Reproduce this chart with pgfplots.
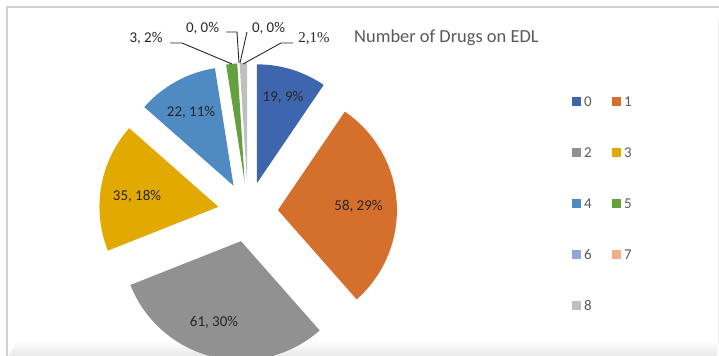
\documentclass[border=0pt]{standalone}
\usepackage{pgfplots}
\usepackage{pgfplotstable}
\pgfplotsset{compat=1.18}
\usepackage{fontspec}
\setmainfont{Carlito}
\newfontfamily\serifnum{Liberation Serif}
\definecolor{c0}{HTML}{3E66AE}
\definecolor{c1}{HTML}{D4702C}
\definecolor{c2}{HTML}{919191}
\definecolor{c3}{HTML}{E2AA00}
\definecolor{c4}{HTML}{4F8BC2}
\definecolor{c5}{HTML}{65A03F}
\definecolor{c6}{HTML}{8FA7D6}
\definecolor{c7}{HTML}{F4AD8D}
\definecolor{c8}{HTML}{BFBFBF}
\definecolor{txt}{HTML}{262626}
\definecolor{ttl}{HTML}{595959}
\definecolor{frm}{HTML}{D0D0D0}

% category, value, colour
\pgfplotstableread{
cat val col
0 19 c0
1 58 c1
2 61 c2
3 35 c3
4 22 c4
5 3 c5
6 0 c6
7 0 c7
8 2 c8
}\piedata

\begin{document}
\begin{tikzpicture}
\begin{axis}[width=719bp, height=356bp, scale only axis,
  xmin=0, xmax=719, ymin=0, ymax=356, enlargelimits=false,
  hide axis, clip=false, at={(0,0)}, anchor=origin]
\pgfplotsextra{%
  \coordinate (BL) at (axis cs:0,0);
  \coordinate (TR) at (axis cs:719,356);
  % bottom shadow of the frame
  \shade[top color=white, bottom color=black!9]
    (axis cs:8,0) -- (axis cs:18,15) -- (axis cs:717,15) -- (axis cs:717,0) -- cycle;
  % frame
  \draw[frm, line width=1.2bp] (axis cs:7,0) -- (axis cs:7,349) -- (axis cs:719,349);
  \draw[black!7, line width=1bp] (axis cs:718,336) -- (axis cs:718,12);
  % pie
  \def\pcx{248}\def\pcy{144}\def\pexp{30}\def\prad{119}
  \def\ptot{0}
  \pgfplotsforeachungrouped \i in {0,...,8}{%
    \pgfplotstablegetelem{\i}{val}\of\piedata
    \pgfmathsetmacro\ptot{\ptot+\pgfplotsretval}}
  \def\pcum{0}
  \pgfplotsforeachungrouped \i in {0,...,8}{%
    \pgfplotstablegetelem{\i}{val}\of\piedata \let\sval\pgfplotsretval
    \pgfplotstablegetelem{\i}{col}\of\piedata \let\scol\pgfplotsretval
    \pgfmathsetmacro\aone{90-\pcum/\ptot*360}
    \pgfmathsetmacro\pcum{\pcum+\sval}
    \pgfmathsetmacro\atwo{90-\pcum/\ptot*360}
    \pgfmathsetmacro\amid{(\aone+\atwo)/2}
    \pgfmathsetmacro\apx{\pcx+\pexp*cos(\amid)}
    \pgfmathsetmacro\apy{\pcy+\pexp*sin(\amid)}
    \ifdim\sval pt>0pt
      \fill[\scol] (axis cs:\apx,\apy) -- ++(\aone:\prad bp)
        arc[start angle=\aone, end angle=\atwo, radius=\prad bp] -- cycle;
    \fi}
  % data labels
  \begingroup
  \fontsize{15}{15}\selectfont\color{txt}
  \node[inner sep=0pt] at (axis cs:283,259) {19, 9\%};
  \node[inner sep=0pt] at (axis cs:358.5,150) {58, 29\%};
  \node[inner sep=0pt] at (axis cs:214,34) {61, 30\%};
  \node[inner sep=0pt] at (axis cs:137,160) {35, 18\%};
  \node[inner sep=0pt] at (axis cs:191,244) {22, 11\%};
  \node[inner sep=0pt] at (axis cs:146,318) {3, 2\%};
  \node[inner sep=0pt] at (axis cs:202.5,328) {0, 0\%};
  \node[inner sep=0pt] at (axis cs:268.5,328) {0, 0\%};
  \node[inner sep=0pt] at (axis cs:314,317.5) {\serifnum 2,1\%};
  \endgroup
  % leader lines
  \draw[txt, line width=0.9bp] (axis cs:170,313) -- (axis cs:182,313) -- (axis cs:232,292);
  \draw[txt, line width=0.9bp] (axis cs:226,324) -- (axis cs:237,324) -- (axis cs:239,293);
  \draw[txt, line width=0.9bp] (axis cs:247,324) -- (axis cs:240,293);
  \draw[txt, line width=0.9bp] (axis cs:293,313) -- (axis cs:281,313) -- (axis cs:243,292);
  % title
  \node[anchor=base west, inner sep=0pt, text=ttl, font=\fontsize{18.5}{18.5}\selectfont]
    at (axis cs:354,313) {Number of Drugs on EDL};
  % legend
  \pgfplotsforeachungrouped \i in {0,...,8}{%
    \pgfplotstablegetelem{\i}{col}\of\piedata \let\scol\pgfplotsretval
    \pgfplotstablegetelem{\i}{cat}\of\piedata \let\scat\pgfplotsretval
    \pgfmathsetmacro\lx{572+40*mod(\i,2)}
    \pgfmathsetmacro\ly{356-(101.3+51.05*int(\i/2))}
    \fill[\scol] (axis cs:\lx,\ly) ++(0bp,-4.5bp) rectangle ++(9bp,9bp);
    \pgfmathsetmacro\tx{\lx+12}
    \node[anchor=west, inner sep=0pt, text=ttl, font=\fontsize{15}{15}\selectfont]
      at (axis cs:\tx,\ly) {\scat};}
}
\end{axis}
\pgfresetboundingbox
\path[use as bounding box] (BL) rectangle (TR);
\end{tikzpicture}
\end{document}
